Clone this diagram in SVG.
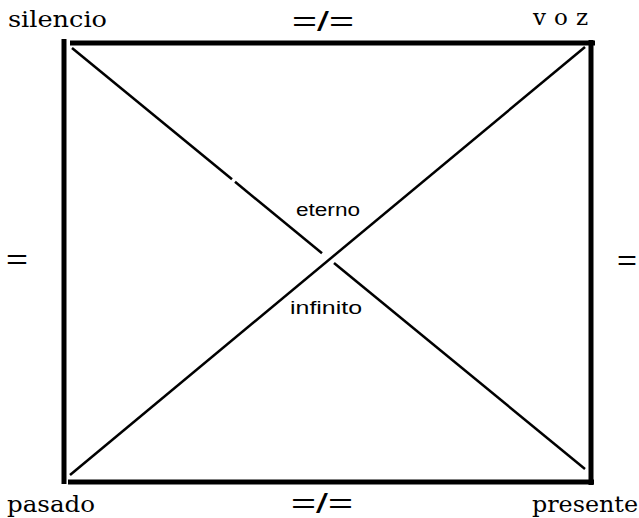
<svg xmlns="http://www.w3.org/2000/svg" width="639" height="518" viewBox="0 0 639 518">
<style>
.frame{stroke:#000;stroke-width:5;fill:none}
.diag{stroke:#000;stroke-width:2.5;fill:none}
.serif{font-family:"DejaVu Serif","Liberation Serif",serif;font-size:23px;fill:#000}
.sans{font-family:"Liberation Sans",Arial,sans-serif;font-size:18px;fill:#000}
.eq{font-family:"Liberation Sans",Arial,sans-serif;font-size:27px;fill:#000}
</style>
<rect width="639" height="518" fill="#fff"/>
<g id="connectors">
<line class="frame" x1="64" y1="39" x2="64" y2="484"/>
<line class="frame" x1="70" y1="43" x2="595" y2="43"/>
<line class="frame" x1="591" y1="40" x2="591" y2="485"/>
<line class="frame" x1="68" y1="482" x2="594" y2="482"/>
<line class="diag" x1="72" y1="48" x2="232" y2="179.3"/>
<line class="diag" x1="235" y1="181.8" x2="322" y2="253.2"/>
<line class="diag" x1="334" y1="263" x2="585" y2="469"/>
<line class="diag" x1="585" y1="47" x2="70" y2="475"/>
</g>
<g id="silencio"><text class="serif" x="8" y="27" textLength="99" lengthAdjust="spacingAndGlyphs">silencio</text></g>
<g id="voz"><text class="serif" x="533" y="25" textLength="55" lengthAdjust="spacing">v o z</text></g>
<g id="pasado"><text class="serif" x="7" y="512" textLength="88" lengthAdjust="spacingAndGlyphs">pasado</text></g>
<g id="presente"><text class="serif" x="532" y="512" textLength="106" lengthAdjust="spacingAndGlyphs">presente</text></g>
<g id="top-neq"><text class="eq" x="292" y="31" textLength="62" lengthAdjust="spacingAndGlyphs">=/=</text></g>
<g id="bottom-neq"><text class="eq" x="291" y="513" textLength="62" lengthAdjust="spacingAndGlyphs">=/=</text></g>
<g id="left-eq"><text class="eq" x="6" y="269" textLength="22" lengthAdjust="spacingAndGlyphs">=</text></g>
<g id="right-eq"><text class="eq" x="617" y="270" textLength="20" lengthAdjust="spacingAndGlyphs">=</text></g>
<g id="eterno"><text class="sans" x="296" y="216" textLength="64" lengthAdjust="spacingAndGlyphs">eterno</text></g>
<g id="infinito"><text class="sans" x="290" y="314" textLength="72" lengthAdjust="spacingAndGlyphs">infinito</text></g>
</svg>
